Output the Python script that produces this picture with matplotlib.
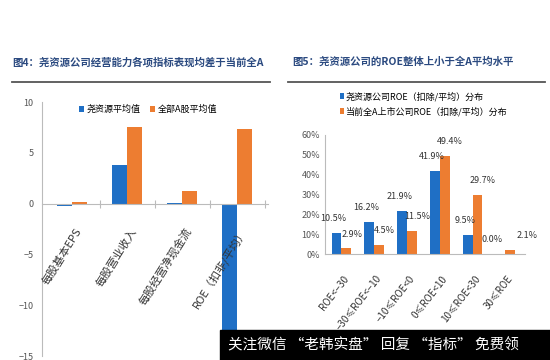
import numpy as np
import matplotlib.pyplot as plt
from matplotlib.patches import Rectangle

plt.rcParams['font.family'] = ['Noto Sans CJK SC', 'DejaVu Sans']

# left chart data
left_cats = ['每股基本EPS', '每股营业收入', '每股经营净现金流', 'ROE（扣非/平均）']
left_yao = [-0.2, 3.8, 0.1, -13.0]
left_all = [0.2, 7.5, 1.2, 7.3]
left_names = ['尧资源平均值', '全部A股平均值']

# right chart data
right_cats = ['ROE<−30', '−30≤ROE<−10', '−10≤ROE<0', '0≤ROE<10', '10≤ROE<30', '30≤ROE']
right_yao = [10.5, 16.2, 21.9, 41.9, 9.5, 0.0]
right_all = [2.9, 4.5, 11.5, 49.4, 29.7, 2.1]
right_names = ['尧资源公司ROE（扣除/平均）分布', '当前全A上市公司ROE（扣除/平均）分布']

blue = '#1f6fc5'
orange = '#ed7d31'
title_c = '#2b4a80'

fig = plt.figure(figsize=(5.5, 3.6), dpi=100)

# titles and underlines
fig.text(12/550, 1-62/360, '图4：尧资源公司经营能力各项指标表现均差于当前全A',
         fontsize=7.5, fontweight='bold', color=title_c, va='center')
fig.text(292/550, 1-62/360, '图5：尧资源公司的ROE整体上小于全A平均水平',
         fontsize=7.5, fontweight='bold', color=title_c, va='center')
fig.add_artist(plt.Line2D([12/550, 270/550], [1-82/360]*2, color='#555555', lw=1.3))
fig.add_artist(plt.Line2D([288/550, 545/550], [1-82/360]*2, color='#555555', lw=1.3))

# ---- left chart
ax1 = fig.add_axes([42/550, 4/360, 226/550, 254/360])
x = np.arange(len(left_cats))
w = 0.27
ax1.bar(x - w/2, left_yao, w, color=blue, label=left_names[0])
ax1.bar(x + w/2, left_all, w, color=orange, label=left_names[1])
ax1.set_xlim(-0.55, 3.56)
ax1.set_ylim(-15, 10)
ax1.set_yticks([10, 5, 0, -5, -10, -15])
ax1.tick_params(axis='y', labelsize=6.5, colors='#555555', length=0, pad=6)
for s in ['top', 'right']:
    ax1.spines[s].set_visible(False)
ax1.spines['left'].set_color('#bbbbbb')
ax1.spines['bottom'].set_position(('data', 0))
ax1.spines['bottom'].set_color('#bbbbbb')
ax1.set_xticks([0.5, 1.5, 2.5, 3.5])
ax1.set_xticklabels([])
ax1.tick_params(axis='x', direction='inout', length=6, color='#bbbbbb')
for i, lab in enumerate(left_cats):
    ax1.text(i + 0.05, -2.2, lab, rotation=58, rotation_mode='anchor',
             ha='right', va='top', fontsize=8, color='#333333', zorder=5)
ax1.legend(loc='upper center', bbox_to_anchor=(0.47, 1.02), ncol=2, frameon=False,
           fontsize=6.5, handlelength=0.6, handleheight=0.6, columnspacing=1.0,
           handletextpad=0.3)

# ---- right chart
ax2 = fig.add_axes([325/550, 106/360, 200/550, 119/360])
x2 = np.arange(len(right_cats))
w2 = 0.3
b1 = ax2.bar(x2 - w2/2, right_yao, w2, color=blue, label=right_names[0])
b2 = ax2.bar(x2 + w2/2, right_all, w2, color=orange, label=right_names[1])
n = len(right_cats)
for bars, vals, dx in [(b1, right_yao, -2), (b2, right_all, 4)]:
    for k, (r, v) in enumerate(zip(bars, vals)):
        shift = dx
        if k == n - 1:
            shift = dx * 3
        ax2.annotate('%.1f%%' % v, (r.get_x() + r.get_width()/2, v),
                     xytext=(shift, 7), textcoords='offset points', ha='center',
                     va='bottom', fontsize=6.5, color='#333333')
ax2.set_xlim(-0.5, 5.6)
ax2.set_ylim(0, 60)
ax2.set_yticks(range(0, 61, 10))
ax2.set_yticklabels(['%d%%' % v for v in range(0, 61, 10)])
ax2.tick_params(axis='y', labelsize=6.5, colors='#555555', length=0)
for s in ['top', 'right']:
    ax2.spines[s].set_visible(False)
ax2.spines['left'].set_color('#bbbbbb')
ax2.spines['bottom'].set_color('#bbbbbb')
ax2.set_xticks(x2 + 0.05)
ax2.set_xticklabels(right_cats, rotation=52, rotation_mode='anchor', ha='right',
                    fontsize=7, color='#333333')
ax2.tick_params(axis='x', length=0, pad=14)
ax2.legend(loc='lower left', bbox_to_anchor=(0.05, 1.12), ncol=1, frameon=False,
           fontsize=6.5, handlelength=0.5, handleheight=0.5, handletextpad=0.2,
           labelspacing=0.6, borderpad=0)

# watermark banner
fig.add_artist(Rectangle((220/550, 0), 330/550, 30/360, transform=fig.transFigure,
                         color='black', zorder=10))
fig.text(228/550, 15/360, '关注微信 “老韩实盘” 回复 “指标” 免费领', color='white',
         fontsize=10.5, va='center', zorder=11)

fig.savefig('out.png', dpi=100)
